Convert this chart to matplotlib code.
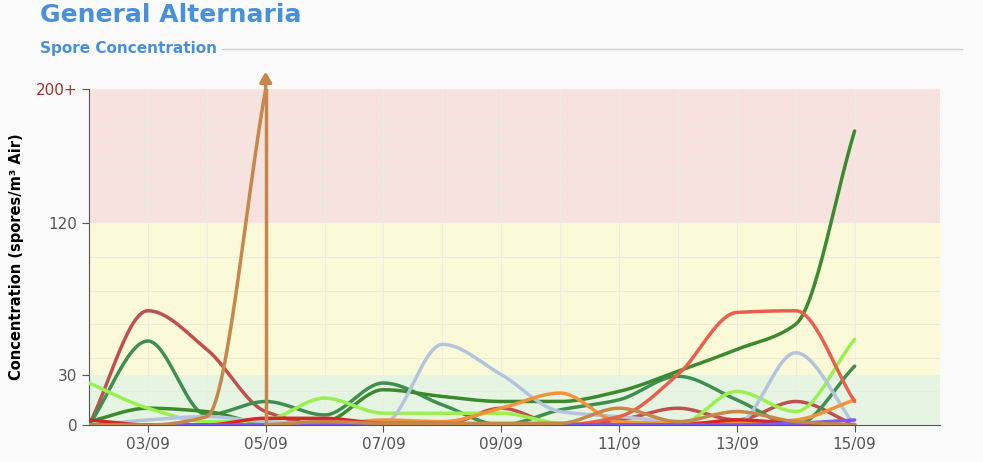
import numpy as np
import matplotlib
matplotlib.use("Agg")
import matplotlib.pyplot as plt

days = list(range(2, 16))
tick_days = [3, 5, 7, 9, 11, 13, 15]
tick_labels = ["03/09", "05/09", "07/09", "09/09", "11/09", "13/09", "15/09"]
y_ticks = [0, 30, 120, 200]
y_tick_labels = ["0", "30", "120", "200+"]

series = {
    "#c0504d": [0, 68, 45, 8, 0, 0, 0, 10, 0, 3, 10, 3, 14, 0],
    "#3f8f50": [0, 50, 6, 14, 6, 25, 12, 0, 9, 15, 29, 15, 0, 35],
    "#3b8a2e": [2, 10, 8, 1, 2, 21, 17, 14, 14, 20, 32, 45, 60, 175],
    "#99f050": [25, 10, 2, 3, 16, 7, 7, 7, 1, 0, 0, 20, 8, 51],
    "#b4c4dc": [0, 3, 5, 2, 1, 1, 48, 30, 8, 5, 2, 1, 43, 0],
    "#f2923a": [0, 0, 0, 0, 0, 3, 2, 10, 19, 2, 1, 1, 3, 15],
    "#e8604c": [0, 0, 0, 0, 0, 0, 0, 0, 0, 5, 30, 67, 68, 14],
    "#d62728": [3, 0, 0, 4, 4, 1, 1, 0, 0, 0, 0, 3, 1, 0],
    "#7b5cf0": [0, 0, 0, 0, 0, 0, 0, 0, 0, 0, 0, 0, 1, 3],
}
spike_color = "#c8874a"
spike_before = [0, 0, 5, 200]          # days 2..5
spike_after = [0, 2, 1, 1, 1, 1, 10, 2, 8, 2, 0]  # days 5..15

def smooth(x, y, n=30):
    x = np.asarray(x, float); y = np.asarray(y, float)
    h = np.diff(x); d = np.diff(y) / h
    m = np.zeros_like(y)
    m[0], m[-1] = d[0], d[-1]
    for i in range(1, len(y) - 1):
        if d[i-1] * d[i] <= 0:
            m[i] = 0
        else:
            m[i] = 2 / (1/d[i-1] + 1/d[i])
    xs, ys = [], []
    for i in range(len(x) - 1):
        t = np.linspace(0, 1, n)
        h00 = 2*t**3 - 3*t**2 + 1; h10 = t**3 - 2*t**2 + t
        h01 = -2*t**3 + 3*t**2; h11 = t**3 - t**2
        xs.append(x[i] + t*h[i])
        ys.append(h00*y[i] + h10*h[i]*m[i] + h01*y[i+1] + h11*h[i]*m[i+1])
    return np.concatenate(xs), np.concatenate(ys)

fig = plt.figure(figsize=(9.83, 4.62), dpi=100, facecolor="#fafafa")
ax = fig.add_axes([89/983, 37/462, 851/983, 336/462])
ax.set_facecolor("#fafafa")
ax.set_xlim(2, 16.45)
ax.set_ylim(0, 200)

ax.axhspan(0, 30, color="#e6f5e2", zorder=0, lw=0)
ax.axhspan(30, 120, color="#faf9d8", zorder=0, lw=0)
ax.axhspan(120, 200, color="#f7e2df", zorder=0, lw=0)
for v in list(range(20, 120, 20)) + list(range(130, 200, 10)):
    ax.axhline(v, color="#ebebe2", lw=0.7, zorder=1)
for d in days:
    ax.axvline(d, color="#ebeee6", lw=0.7, zorder=1)

for c, vals in series.items():
    xs, ys = smooth(days, vals)
    ax.plot(xs, np.clip(ys, 0, None), color=c, lw=2.5, zorder=3, solid_capstyle="round")

xs, ys = smooth(days[:4], spike_before)
ax.plot(xs, np.clip(ys, 0, None), color=spike_color, lw=2.5, zorder=4)
xs, ys = smooth(days[3:], spike_after)
ax.plot(xs, np.clip(ys, 0, None), color=spike_color, lw=2.5, zorder=4)
ax.plot([5, 5], [0, 200], color=spike_color, lw=2.5, zorder=4)
ax.annotate("", xy=(5, 212), xytext=(5, 199), annotation_clip=False,
            arrowprops=dict(arrowstyle="-|>,head_width=0.35,head_length=0.6",
                            color=spike_color, lw=2.5))

for s in ["top", "right"]:
    ax.spines[s].set_visible(False)
ax.spines["left"].set_color("#555555")
ax.spines["bottom"].set_color("#555555")
ax.set_xticks(tick_days)
ax.set_xticklabels(tick_labels, color="#555555", fontsize=11)
ax.set_yticks(y_ticks)
ax.set_yticklabels(y_tick_labels, color="#555555", fontsize=11)
ax.get_yticklabels()[-1].set_color("#a03030")
ax.tick_params(length=5, color="#555555")
ax.set_ylabel("Concentration (spores/m³ Air)", fontsize=10.5, fontweight="bold", labelpad=8)

fig.text(40/983, 1 - 15/462, "General Alternaria", color="#4a90d9", fontsize=18,
         fontweight="bold", va="center")
fig.text(40/983, 1 - 48/462, "Spore Concentration", color="#4a90d9", fontsize=11,
         fontweight="bold", va="center")
fig.add_artist(plt.Line2D([222/983, 962/983], [1 - 49/462] * 2, color="#cccccc", lw=1))

fig.savefig("out.png", dpi=100, facecolor=fig.get_facecolor())
